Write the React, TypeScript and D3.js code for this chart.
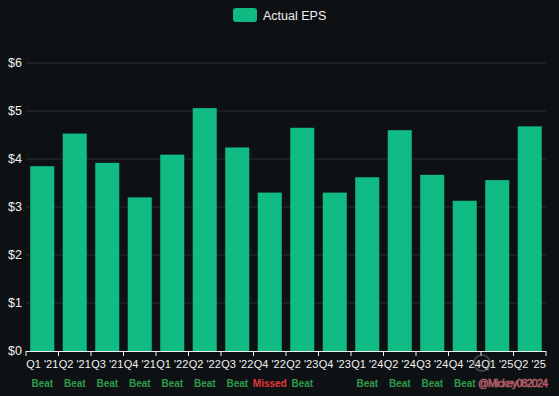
import * as d3 from "d3";

const quarters = [
  "Q1 '21", "Q2 '21", "Q3 '21", "Q4 '21",
  "Q1 '22", "Q2 '22", "Q3 '22", "Q4 '22",
  "Q2 '23", "Q4 '23", "Q1 '24", "Q2 '24",
  "Q3 '24", "Q4 '24", "Q1 '25", "Q2 '25",
];
const actualEps = [
  3.85, 4.53, 3.92, 3.2, 4.09, 5.06, 4.24, 3.3,
  4.65, 3.3, 3.62, 4.6, 3.67, 3.13, 3.56, 4.68,
];
const results = [
  "Beat", "Beat", "Beat", "Beat", "Beat", "Beat", "Beat", "Missed",
  "Beat", "", "Beat", "Beat", "Beat", "Beat", "", "",
];
const yTicks = [0, 1, 2, 3, 4, 5, 6];

const W = 559;
const H = 396;
const left = 26;
const right = 546;
const top = 63;
const bottom = 351;
const font = "'Liberation Sans', Arial, sans-serif";

export default function App() {
  const x = d3.scaleBand().domain(quarters).range([left, right]).paddingInner(0.26).paddingOuter(0.13);
  const band = d3.scaleBand().domain(quarters).range([left, right]);
  const y = d3.scaleLinear().domain([0, 6]).range([bottom, top]);

  return (
    <svg
      width={W}
      height={H}
      style={{ position: "absolute", left: 0, top: 0, background: "#0e1113" }}
    >
      <rect width={W} height={H} fill="#0e1113" />
      {/* legend */}
      <rect x={233} y={8} width={24} height={14} rx={3} fill="#10b981" />
      <text x={263} y={19.5} fill="#f0f0f0" fontSize={12.5} fontFamily={font}>
        Actual EPS
      </text>

      {yTicks.map((t) => (
        <g key={t}>
          {t > 0 && (
            <line x1={left} x2={right} y1={y(t)} y2={y(t)} stroke="#2a2e32" strokeWidth={1} />
          )}
          <text
            x={22}
            y={y(t)}
            dy="0.35em"
            textAnchor="end"
            fill="#f0f0f0"
            fontSize={12.5}
            fontFamily={font}
          >
            ${t}
          </text>
        </g>
      ))}

      {quarters.map((q, i) => (
        <rect
          key={q}
          x={x(q)}
          width={x.bandwidth()}
          y={y(actualEps[i])}
          height={y(0) - y(actualEps[i])}
          fill="#10bb84"
        />
      ))}

      {/* x axis */}
      <line x1={left} x2={right} y1={bottom + 0.5} y2={bottom + 0.5} stroke="#f0f0f0" />
      {[...quarters.map((q) => band(q)!), right].map((px, i) => (
        <line key={i} x1={px} x2={px} y1={bottom} y2={bottom + 5} stroke="#f0f0f0" />
      ))}
      {quarters.map((q) => (
        <text
          key={q}
          x={band(q)! + band.bandwidth() / 2}
          y={368}
          textAnchor="middle"
          fill="#f0f0f0"
          fontSize={11}
          fontFamily={font}
        >
          {q}
        </text>
      ))}
      {quarters.map((q, i) =>
        results[i] ? (
          <text
            key={q}
            x={band(q)! + band.bandwidth() / 2}
            y={387}
            textAnchor="middle"
            fill={results[i] === "Beat" ? "#2f9a4c" : "#e0383c"}
            fontSize={10}
            fontWeight="bold"
            fontFamily={font}
          >
            {results[i]}
          </text>
        ) : null
      )}

      {/* watermark */}
      <circle cx={482} cy={363} r={8} fill="none" stroke="#8a8a8a" strokeOpacity={0.5} strokeWidth={1.5} />
      <text
        x={478}
        y={387}
        fill="#e05064"
        stroke="#ffffff"
        strokeOpacity={0.25}
        strokeWidth={1}
        paintOrder="stroke"
        fontSize={10.5}
        textLength={70}
        fontFamily={font}
      >
        @Mickey082024
      </text>
    </svg>
  );
}
